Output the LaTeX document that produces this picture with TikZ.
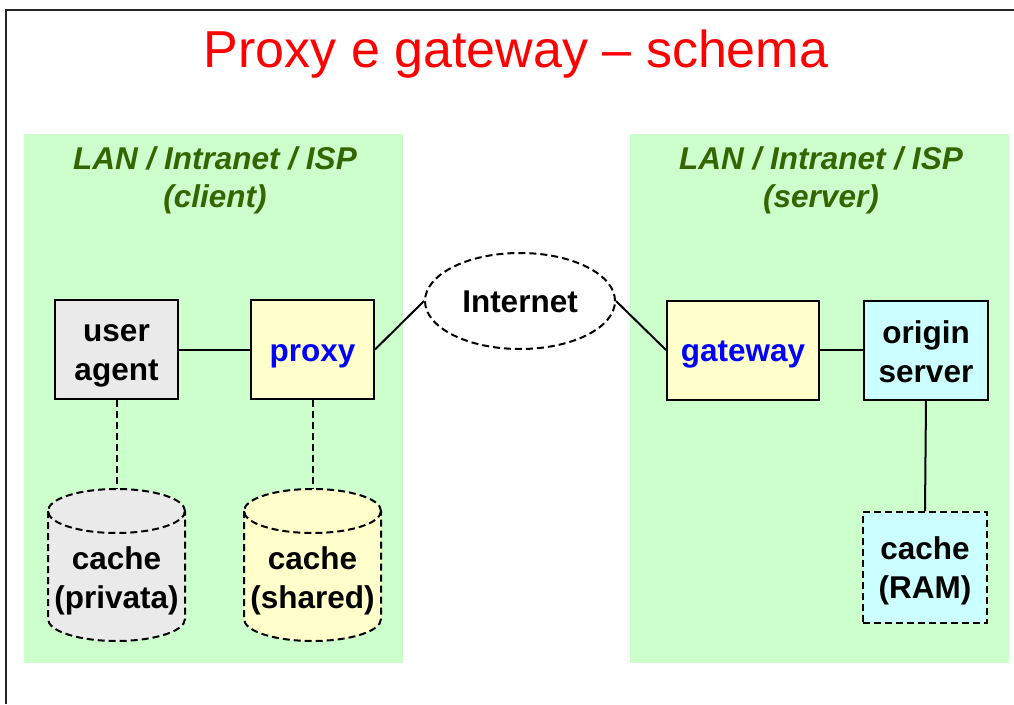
\documentclass[tikz,border=0pt]{standalone}
\usepackage{fontspec}
\setmainfont{Liberation Sans}
\usetikzlibrary{shapes.geometric}
\definecolor{lanbg}{HTML}{CCFFCC}
\definecolor{lantext}{HTML}{336600}
\definecolor{greyfill}{HTML}{EAEAEA}
\definecolor{yellowfill}{HTML}{FFFFCC}
\definecolor{cyanfill}{HTML}{CCFFFF}
\definecolor{titlered}{HTML}{FF0000}
\definecolor{nameblue}{HTML}{0000FF}
\tikzset{
  lbl/.style={font=\fontsize{31.5}{39}\selectfont\bfseries, align=center, inner sep=0pt},
  hostbox/.style={draw=black, line width=2pt, minimum width=123pt, minimum height=99pt, inner sep=0pt},
  cachebox/.style={hostbox, dash pattern=on 7pt off 4pt},
  lanhead/.style={font=\fontsize{31.5}{38}\selectfont\bfseries\itshape, text=lantext, align=center, inner sep=0pt},
  link/.style={draw=black, line width=2pt},
  dlink/.style={link, dash pattern=on 7pt off 4pt},
  drum/.style={draw=black, line width=2pt, dash pattern=on 7pt off 4pt},
}
\begin{document}
\begin{tikzpicture}[x=1pt, y=-1pt]
  \useasboundingbox (0,0) rectangle (1014,704);
  \fill[white] (0,0) rectangle (1014,704);

  % slide frame
  \draw[line width=2pt, black!85] (6,704) -- (6,9.5) -- (1014,9.5);

  % title
  \node[font=\fontsize{52}{60}\selectfont, text=titlered, inner sep=0pt] (title) at (516,54) {Proxy e gateway -- schema};

  % the two network areas
  \fill[lanbg] (24,134) rectangle (403,663);
  \fill[lanbg] (630,134) rectangle (1009,663);
  \node[lanhead] (headL) at (215,180) {LAN / Intranet / ISP\\(client)};
  \node[lanhead] (headR) at (821,180) {LAN / Intranet / ISP\\(server)};

  % hosts
  \node[hostbox, fill=greyfill] (ua) at (116.5,349.5) {};
  \node[hostbox, fill=yellowfill] (proxy) at (312.5,349.5) {};
  \node[hostbox, fill=yellowfill, minimum width=152pt] (gw) at (743,350) {};
  \node[hostbox, fill=cyanfill, minimum width=124pt] (origin) at (926,350) {};
  \node[cachebox, fill=cyanfill, minimum width=124pt, minimum height=111pt] (ram) at (925,567.5) {};

  \node[lbl] (ua-t) at ([yshift=-6.5pt]ua.center) {user\\agent};
  \node[lbl, text=nameblue] (proxy-t) at ([yshift=-7pt]proxy.center) {proxy};
  \node[lbl, text=nameblue] (gw-t) at ([yshift=-5pt]gw.center) {gateway};
  \node[lbl] (origin-t) at ([yshift=-1.5pt]origin.center) {origin\\server};
  \node[lbl] (ram-t) at ([yshift=-3.5pt]ram.center) {cache\\(RAM)};

  % Internet cloud
  \node[ellipse, draw=black, line width=2pt, dash pattern=on 7pt off 4pt, fill=white,
        minimum width=190pt, minimum height=96pt, inner sep=0pt] (inet) at (520,301) {};
  \node[lbl] (inet-t) at ([yshift=-1pt]inet.center) {Internet};

  % disk caches (cylinders)
  \foreach \cx/\fc/\nm in {116.5/greyfill/cpriv, 312.5/yellowfill/cshared}{
    \fill[\fc] (\cx-68.5,511) -- (\cx-68.5,619) arc[start angle=180, end angle=0, x radius=68.5, y radius=22]
          -- (\cx+68.5,511) arc[start angle=0, end angle=-180, x radius=68.5, y radius=22] -- cycle;
    \draw[drum] (\cx-68.5,511) -- (\cx-68.5,619) arc[start angle=180, end angle=0, x radius=68.5, y radius=22]
          -- (\cx+68.5,511);
    \draw[drum] (\cx,511) ellipse[x radius=68.5, y radius=22];
    \coordinate (\nm-top) at (\cx,489);
  }
  \node[lbl] (cpriv) at (116.5,581) {cache\\(privata)};
  \node[lbl] (cshared) at (312.5,581) {cache\\(shared)};

  % connections
  \draw[link] (ua.east) -- (proxy.west);
  \draw[link] (proxy.east) -- (inet.west);
  \draw[link] (inet.east) -- (gw.west);
  \draw[link] (gw.east) -- (origin.west);
  \draw[link] (origin.south) -- (ram.north);
  \draw[dlink] (ua.south) -- (cpriv-top);
  \draw[dlink] (proxy.south) -- (cshared-top);
\end{tikzpicture}
\end{document}
